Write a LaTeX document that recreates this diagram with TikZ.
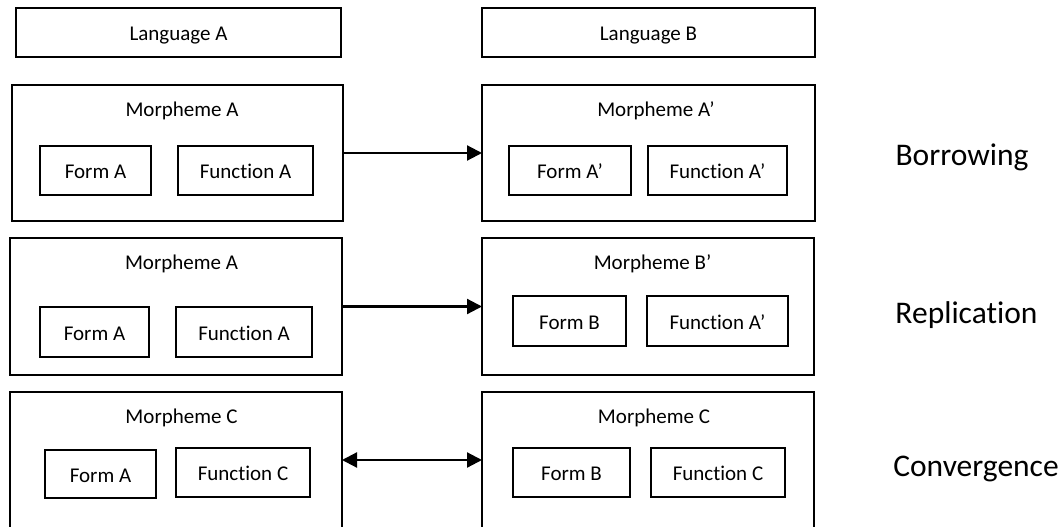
\documentclass[tikz,border=0pt]{standalone}
\usepackage{fontspec}
\setmainfont{Carlito}[Ligatures=NoCommon]
\usetikzlibrary{arrows.meta}
\newcommand\boxfont{\fontsize{21}{25}\selectfont}
\newcommand\procfont{\fontsize{31.5}{36}\selectfont}

\begin{document}
\begin{tikzpicture}[x=1pt, y=-1pt,
  frame/.style={
    draw,
    line width=2.2pt,
    inner sep=0pt,
    outer sep=0pt
  },
  lang/.style={frame, font=\boxfont, minimum height=49pt,
    text height=16pt, text depth=0pt},
  morph/.style={frame},
  part/.style={frame, font=\boxfont, minimum height=49pt,
    text height=16pt, text depth=0pt},
  mlabel/.style={anchor=base, font=\boxfont, inner sep=0pt},
  proc/.style={anchor=base, font=\procfont, inner sep=0pt},
  arr/.style={-{Triangle[length=15pt, width=15pt]}, line width=2.2pt},
  darr/.style={{Triangle[length=15pt, width=15pt]}-{Triangle[length=15pt, width=15pt]}, line width=2.2pt}
]
\useasboundingbox (0,0) rectangle (1063,527);
\clip (0,0) rectangle (1063,527);

% languages
\node[lang, minimum width=325pt] (langA) at (178.5,32.5) {Language A};
\node[lang, minimum width=333pt] (langB) at (648.5,32.5) {Language B};

% borrowing
\node[morph, minimum width=331pt, minimum height=136pt] (bL) at (177.5,153) {};
\node[mlabel] (bLt) at (182,117) {Morpheme A};
\node[part, minimum width=111pt] (bLform) at (95.5,170.5) {Form A};
\node[part, minimum width=135pt] (bLfun) at (245.5,170.5) {Function A};

\node[morph, minimum width=333pt, minimum height=136pt] (bR) at (648.5,153) {};
\node[mlabel] (bRt) at (656,117) {Morpheme A’};
\node[part, minimum width=122pt] (bRform) at (570,170.5) {Form A’};
\node[part, minimum width=139pt] (bRfun) at (717.5,170.5) {Function A’};

% replication
\node[morph, minimum width=332pt, minimum height=137pt] (rL) at (176,306.5) {};
\node[mlabel] (rLt) at (181.5,269) {Morpheme A};
\node[part, minimum width=109pt, minimum height=50pt] (rLform) at (94.5,332) {Form A};
\node[part, minimum width=136pt, minimum height=50pt] (rLfun) at (244,332) {Function A};

\node[morph, minimum width=332pt, minimum height=137pt] (rR) at (648,306.5) {};
\node[mlabel] (rRt) at (652.5,269) {Morpheme B’};
\node[part, minimum width=113pt, minimum height=50pt] (rRform) at (569.5,321) {Form B};
\node[part, minimum width=141pt, minimum height=50pt] (rRfun) at (717.5,321) {Function A’};

% convergence
\node[morph, minimum width=332pt, minimum height=200pt] (cL) at (176,492) {};
\node[mlabel] (cLt) at (181.5,423) {Morpheme C};
\node[part, minimum width=111pt, minimum height=48pt] (cLform) at (100.5,474) {Form A};
\node[part, minimum width=134pt] (cLfun) at (243,472.5) {Function C};

\node[morph, minimum width=332pt, minimum height=200pt] (cR) at (648,492) {};
\node[mlabel] (cRt) at (654,423) {Morpheme C};
\node[part, minimum width=117pt] (cRform) at (571.5,472.5) {Form B};
\node[part, minimum width=134pt] (cRfun) at (718,472.5) {Function C};

% process names
\node[proc] (borrow) at (962,165) {Borrowing};
\node[proc] (replic) at (966.5,323) {Replication};
\node[proc] (conv) at (976,476) {Convergence};

\draw[arr] (bL) -- (bR);
\draw[arr] (rL) -- (rR);
\draw[darr] ([yshift=32pt]cL.east) -- ([yshift=32pt]cR.west);
\end{tikzpicture}
\end{document}
